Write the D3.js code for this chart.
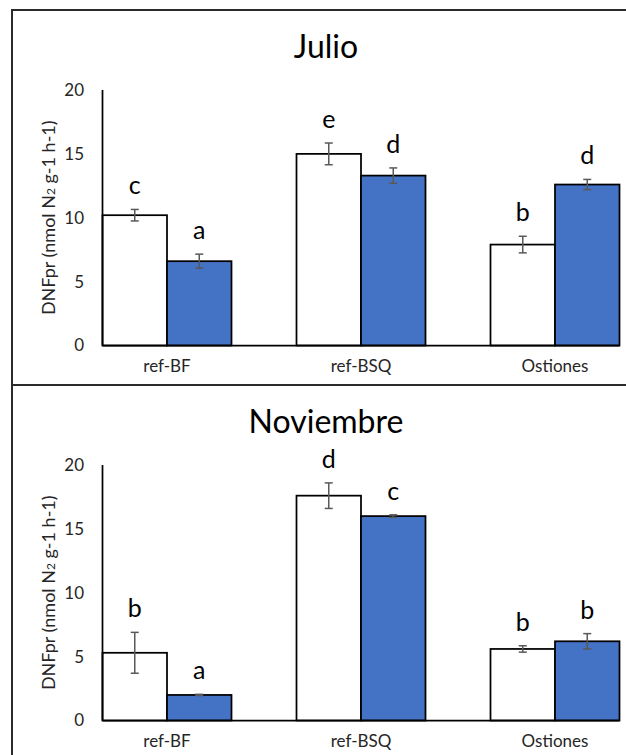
<!DOCTYPE html>
<html>
<head>
<meta charset="utf-8">
<script src="https://cdn.jsdelivr.net/npm/d3@7"></script>
<style>
  html, body { margin: 0; padding: 0; background: #fff; }
  svg { display: block; }
  text { font-family: Lato, "Open Sans", sans-serif; }
</style>
</head>
<body>
<svg id="chart" width="626" height="755"></svg>
<script>
// Denitrification potential rate (DNFpr) by site, two sampling months
const categories = ["ref-BF", "ref-BSQ", "Ostiones"];
const yTicks = [0, 5, 10, 15, 20];

const julioWhite = [10.2, 15.0, 7.9];
const julioWhiteErr = [0.45, 0.85, 0.65];
const julioBlue = [6.6, 13.3, 12.6];
const julioBlueErr = [0.55, 0.6, 0.4];
const julioWhiteLetters = ["c", "e", "b"];
const julioBlueLetters = ["a", "d", "d"];

const novWhite = [5.3, 17.6, 5.6];
const novWhiteErr = [1.6, 1.0, 0.25];
const novBlue = [2.0, 16.0, 6.2];
const novBlueErr = [0.05, 0.1, 0.6];
const novWhiteLetters = ["b", "d", "b"];
const novBlueLetters = ["a", "c", "b"];

const svg = d3.select("#chart");
const panelH = 375;

const x = d3.scaleBand().domain(categories).range([70, 652]).paddingInner(0).paddingOuter(0);
const groupFrac = 129 / 194;
const series = ["white", "blue"];
const fills = { white: "#ffffff", blue: "#4472c4" };

function drawPanel(top, title, white, whiteErr, blue, blueErr, whiteLetters, blueLetters) {
  const g = svg.append("g").attr("transform", `translate(0,${top})`);
  const y = d3.scaleLinear().domain([0, 20]).range([335.5, 80]);
  const groupW = x.bandwidth() * groupFrac;
  const gap = x.bandwidth() - groupW;
  const sub = d3.scaleBand().domain(series).range([0, groupW]);

  // Title
  g.append("text")
    .attr("x", 326).attr("y", 48)
    .attr("text-anchor", "middle")
    .attr("font-size", 32)
    .attr("fill", "#000")
    .text(title);

  // Y tick labels
  g.selectAll(".ytick").data(yTicks).enter().append("text")
    .attr("x", 84).attr("y", d => y(d))
    .attr("dy", "0.35em")
    .attr("text-anchor", "end")
    .attr("font-size", 17)
    .attr("fill", "#262626")
    .text(d => d);

  // Y axis title
  const yt = g.append("text")
    .attr("transform", `translate(55,${(y(0) + y(20)) / 2}) rotate(-90)`)
    .attr("text-anchor", "middle")
    .attr("font-size", 18)
    .attr("fill", "#262626");
  yt.append("tspan").text("DNFpr (nmol N");
  yt.append("tspan").attr("font-size", 12).text("2");
  yt.append("tspan").text(" g-1 h-1)");

  const rows = categories.map((c, i) => [
    { cat: c, s: "white", v: white[i], e: whiteErr[i], l: whiteLetters[i] },
    { cat: c, s: "blue", v: blue[i], e: blueErr[i], l: blueLetters[i] }
  ]).flat();

  const bx = d => x(d.cat) + gap / 2 + sub(d.s);

  // Bars
  g.selectAll(".bar").data(rows).enter().append("rect")
    .attr("x", bx)
    .attr("y", d => y(d.v))
    .attr("width", sub.bandwidth())
    .attr("height", d => y(0) - y(d.v))
    .attr("fill", d => fills[d.s])
    .attr("stroke", "#000")
    .attr("stroke-width", 1.75);

  // Axes lines
  g.append("line")
    .attr("x1", x(categories[0]) + gap / 2).attr("x2", x(categories[0]) + gap / 2)
    .attr("y1", y(20)).attr("y2", y(0))
    .attr("stroke", "#000").attr("stroke-width", 1.75);
  g.append("line")
    .attr("x1", x(categories[0]) + gap / 2)
    .attr("x2", x(categories[categories.length - 1]) + x.bandwidth() - gap / 2)
    .attr("y1", y(0)).attr("y2", y(0))
    .attr("stroke", "#000").attr("stroke-width", 1.75);

  // Error bars
  const eb = g.selectAll(".err").data(rows).enter().append("g")
    .attr("stroke", "#595959").attr("stroke-width", 1.5);
  const cx = d => bx(d) + sub.bandwidth() / 2;
  eb.append("line")
    .attr("x1", cx).attr("x2", cx)
    .attr("y1", d => y(d.v + d.e)).attr("y2", d => y(d.v - d.e));
  eb.append("line")
    .attr("x1", d => cx(d) - 4).attr("x2", d => cx(d) + 4)
    .attr("y1", d => y(d.v + d.e)).attr("y2", d => y(d.v + d.e));
  eb.append("line")
    .attr("x1", d => cx(d) - 4).attr("x2", d => cx(d) + 4)
    .attr("y1", d => y(d.v - d.e)).attr("y2", d => y(d.v - d.e));

  // Significance letters
  g.selectAll(".letter").data(rows).enter().append("text")
    .attr("x", cx)
    .attr("y", d => y(d.v + d.e) - 15)
    .attr("text-anchor", "middle")
    .attr("font-size", 25)
    .attr("fill", "#000")
    .text(d => d.l);

  // Category labels
  g.selectAll(".cat").data(categories).enter().append("text")
    .attr("x", d => x(d) + x.bandwidth() / 2)
    .attr("y", 362)
    .attr("text-anchor", "middle")
    .attr("font-size", 17)
    .attr("fill", "#262626")
    .text(d => d);

  // Panel frame
  g.append("rect")
    .attr("x", 12).attr("y", 0)
    .attr("width", 640).attr("height", panelH)
    .attr("fill", "none")
    .attr("stroke", "#2b2b2b").attr("stroke-width", 2);
}

drawPanel(10, "Julio", julioWhite, julioWhiteErr, julioBlue, julioBlueErr, julioWhiteLetters, julioBlueLetters);
drawPanel(10 + panelH, "Noviembre", novWhite, novWhiteErr, novBlue, novBlueErr, novWhiteLetters, novBlueLetters);
</script>
</body>
</html>
